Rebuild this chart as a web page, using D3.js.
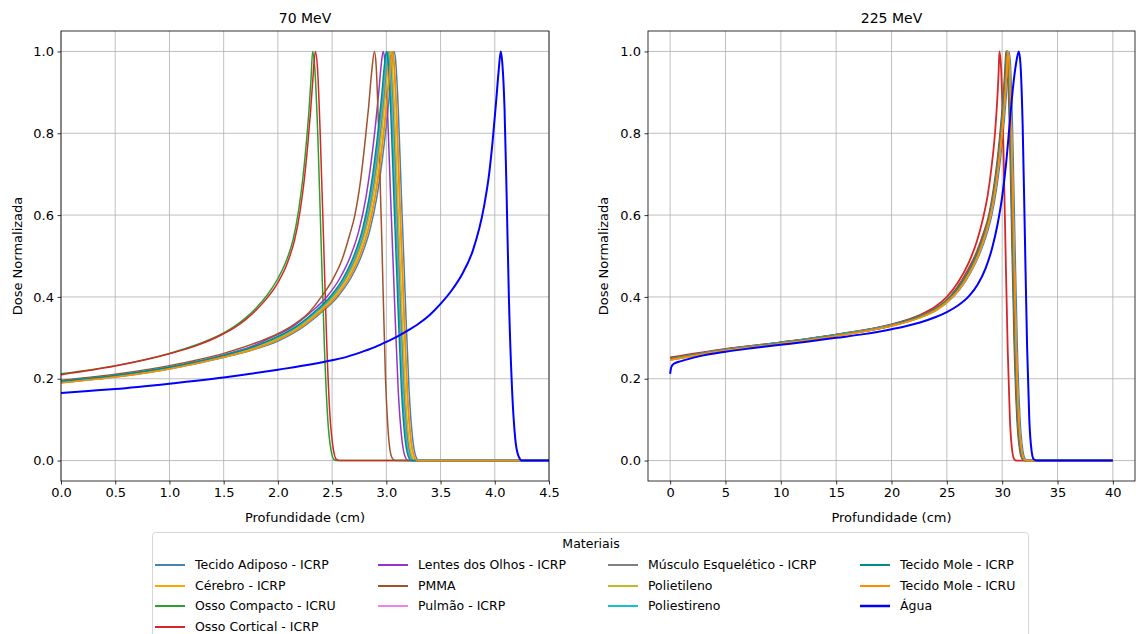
<!DOCTYPE html>
<html>
<head>
<meta charset="utf-8">
<script src="https://cdn.jsdelivr.net/npm/d3@7"></script>
<style>
  body { margin: 0; background: #fff; }
  svg { font-family: "DejaVu Sans", sans-serif; }
</style>
</head>
<body>
<svg id="fig" width="1136" height="634"></svg>
<script>
// === Dados === //

var materiais = [
  "Tecido Adiposo - ICRP", "Cérebro - ICRP", "Osso Compacto - ICRU", "Osso Cortical - ICRP",
  "Lentes dos Olhos - ICRP", "PMMA", "Pulmão - ICRP", "Músculo Esquelético - ICRP",
  "Polietileno", "Poliestireno", "Tecido Mole - ICRP", "Tecido Mole - ICRU", "Água"
]
var cores = ["#4682b4", "#ffa500", "#2ca02c", "#d62728", "#9932cc", "#a0522d", "#ee82ee",
  "#808080", "#bcbd22", "#17becf", "#008b8b", "#ff8c00", "#0000ff"]

// 70 MeV  [profundidade cm, dose]
var adiposo70 = [[0,0.190],[0.5,0.204],[1.0,0.224],[1.5,0.252],[1.75,0.269],[2.0,0.292],[2.25,0.33],[2.40,0.362],[2.55,0.40],[2.67,0.445],[2.77,0.50],[2.85,0.565],[2.91,0.64],[2.96,0.73],[3.00,0.82],[3.03,0.90],[3.05,0.96],[3.07,1.0],[3.085,0.98],[3.11,0.86],[3.14,0.64],[3.18,0.36],[3.21,0.17],[3.24,0.06],[3.27,0.012],[3.30,0],[4.5,0]]
var cerebro70 = [[0,0.191],[0.5,0.205],[1.0,0.225],[1.5,0.253],[1.75,0.270],[1.98,0.293],[2.23,0.33],[2.38,0.362],[2.53,0.40],[2.65,0.445],[2.75,0.50],[2.83,0.565],[2.89,0.64],[2.94,0.73],[2.98,0.82],[3.01,0.90],[3.03,0.96],[3.05,1.0],[3.065,0.98],[3.09,0.86],[3.12,0.64],[3.16,0.36],[3.19,0.17],[3.22,0.06],[3.25,0.012],[3.28,0],[4.5,0]]
var compacto70 = [[0,0.212],[0.5,0.232],[1.0,0.262],[1.25,0.283],[1.5,0.312],[1.6,0.328],[1.7,0.348],[1.8,0.373],[1.9,0.404],[2.0,0.445],[2.08,0.49],[2.14,0.54],[2.19,0.61],[2.23,0.69],[2.26,0.77],[2.285,0.85],[2.305,0.93],[2.32,1.0],[2.34,0.96],[2.37,0.78],[2.40,0.52],[2.43,0.27],[2.46,0.10],[2.49,0.025],[2.52,0.002],[2.55,0],[4.5,0]]
var cortical70 = [[0,0.210],[0.5,0.231],[1.0,0.261],[1.25,0.281],[1.5,0.310],[1.6,0.325],[1.7,0.344],[1.8,0.368],[1.9,0.397],[2.0,0.435],[2.09,0.485],[2.155,0.54],[2.205,0.61],[2.245,0.69],[2.275,0.77],[2.30,0.85],[2.322,0.93],[2.345,1.0],[2.365,0.96],[2.39,0.80],[2.42,0.55],[2.45,0.29],[2.48,0.11],[2.51,0.03],[2.54,0.003],[2.57,0],[4.5,0]]
var lentes70 = [[0,0.195],[0.5,0.209],[1.0,0.229],[1.5,0.258],[1.75,0.278],[1.90,0.296],[2.15,0.33],[2.30,0.362],[2.45,0.40],[2.57,0.445],[2.67,0.50],[2.75,0.565],[2.81,0.64],[2.86,0.73],[2.90,0.82],[2.93,0.90],[2.95,0.96],[2.97,1.0],[2.985,0.98],[3.01,0.86],[3.04,0.64],[3.08,0.36],[3.11,0.17],[3.14,0.06],[3.17,0.012],[3.20,0],[4.5,0]]
var pmma70 = [[0,0.196],[0.5,0.211],[1.0,0.232],[1.5,0.262],[1.8,0.288],[2.0,0.31],[2.15,0.333],[2.28,0.36],[2.40,0.40],[2.50,0.44],[2.59,0.49],[2.66,0.55],[2.71,0.60],[2.76,0.68],[2.80,0.77],[2.835,0.86],[2.865,0.95],[2.89,1.0],[2.905,0.97],[2.93,0.80],[2.96,0.52],[2.99,0.22],[3.02,0.06],[3.05,0.008],[3.08,0],[4.5,0]]
var pulmao70 = [[0,0.193],[0.5,0.207],[1.0,0.227],[1.5,0.256],[1.75,0.275],[1.95,0.295],[2.20,0.33],[2.35,0.362],[2.50,0.40],[2.62,0.445],[2.72,0.50],[2.80,0.565],[2.86,0.64],[2.91,0.73],[2.95,0.82],[2.98,0.90],[3.00,0.96],[3.02,1.0],[3.035,0.98],[3.06,0.86],[3.09,0.64],[3.13,0.36],[3.16,0.17],[3.19,0.06],[3.22,0.012],[3.25,0],[4.5,0]]
var musculo70 = [[0,0.192],[0.5,0.206],[1.0,0.226],[1.5,0.255],[1.75,0.274],[1.955,0.294],[2.205,0.33],[2.355,0.362],[2.505,0.40],[2.625,0.445],[2.725,0.50],[2.805,0.565],[2.865,0.64],[2.915,0.73],[2.955,0.82],[2.985,0.90],[3.005,0.96],[3.025,1.0],[3.04,0.98],[3.065,0.86],[3.095,0.64],[3.135,0.36],[3.165,0.17],[3.195,0.06],[3.225,0.012],[3.255,0],[4.5,0]]
var polietileno70 = [[0,0.191],[0.5,0.205],[1.0,0.225],[1.5,0.254],[1.75,0.272],[1.965,0.294],[2.215,0.33],[2.365,0.362],[2.515,0.40],[2.635,0.445],[2.735,0.50],[2.815,0.565],[2.875,0.64],[2.925,0.73],[2.965,0.82],[2.995,0.90],[3.015,0.96],[3.035,1.0],[3.05,0.98],[3.075,0.86],[3.105,0.64],[3.145,0.36],[3.175,0.17],[3.205,0.06],[3.235,0.012],[3.265,0],[4.5,0]]
var poliestireno70 = [[0,0.194],[0.5,0.208],[1.0,0.228],[1.5,0.257],[1.75,0.276],[1.94,0.295],[2.19,0.33],[2.34,0.362],[2.49,0.40],[2.61,0.445],[2.71,0.50],[2.79,0.565],[2.85,0.64],[2.90,0.73],[2.94,0.82],[2.97,0.90],[2.99,0.96],[3.01,1.0],[3.025,0.98],[3.05,0.86],[3.08,0.64],[3.12,0.36],[3.15,0.17],[3.18,0.06],[3.21,0.012],[3.24,0],[4.5,0]]
var moleIcrp70 = [[0,0.194],[0.5,0.208],[1.0,0.228],[1.5,0.257],[1.75,0.276],[1.93,0.295],[2.18,0.33],[2.33,0.362],[2.48,0.40],[2.60,0.445],[2.70,0.50],[2.78,0.565],[2.84,0.64],[2.89,0.73],[2.93,0.82],[2.96,0.90],[2.98,0.96],[3.00,1.0],[3.015,0.98],[3.04,0.86],[3.07,0.64],[3.11,0.36],[3.14,0.17],[3.17,0.06],[3.20,0.012],[3.23,0],[4.5,0]]
var moleIcru70 = [[0,0.190],[0.5,0.204],[1.0,0.224],[1.5,0.253],[1.75,0.270],[1.985,0.293],[2.235,0.33],[2.385,0.362],[2.535,0.40],[2.655,0.445],[2.755,0.50],[2.835,0.565],[2.895,0.64],[2.945,0.73],[2.985,0.82],[3.015,0.90],[3.035,0.96],[3.055,1.0],[3.07,0.98],[3.095,0.86],[3.125,0.64],[3.165,0.36],[3.195,0.17],[3.225,0.06],[3.255,0.012],[3.285,0],[4.5,0]]
var agua70 = [[0,0.165],[0.25,0.170],[0.5,0.175],[1.0,0.188],[1.5,0.203],[2.0,0.222],[2.5,0.245],[2.6,0.251],[2.7,0.259],[2.8,0.268],[2.9,0.278],[3.0,0.290],[3.1,0.303],[3.2,0.318],[3.3,0.335],[3.4,0.356],[3.5,0.383],[3.6,0.415],[3.7,0.456],[3.8,0.515],[3.9,0.62],[3.95,0.705],[3.98,0.78],[4.01,0.87],[4.035,0.95],[4.055,1.0],[4.07,0.97],[4.09,0.86],[4.11,0.64],[4.13,0.40],[4.16,0.17],[4.19,0.05],[4.22,0.01],[4.25,0],[4.5,0]]

// 225 MeV
var adiposo225 = [[0,0.246],[5,0.269],[10,0.286],[15,0.305],[20,0.329],[22.5,0.349],[24,0.367],[25,0.386],[26.15,0.418],[27.15,0.46],[27.95,0.505],[28.55,0.55],[29.05,0.60],[29.45,0.66],[29.8,0.73],[30.1,0.81],[30.35,0.89],[30.5,0.95],[30.6,1.0],[30.75,0.96],[30.95,0.78],[31.15,0.52],[31.35,0.28],[31.6,0.10],[31.85,0.025],[32.1,0.003],[32.35,0],[40,0]]
var cerebro225 = [[0,0.247],[5,0.270],[10,0.287],[15,0.306],[20,0.330],[22.5,0.350],[24,0.369],[25,0.389],[26,0.418],[27,0.46],[27.8,0.505],[28.4,0.55],[28.9,0.60],[29.3,0.66],[29.65,0.73],[29.95,0.81],[30.2,0.89],[30.35,0.95],[30.45,1.0],[30.6,0.96],[30.8,0.78],[31.0,0.52],[31.2,0.28],[31.45,0.10],[31.7,0.025],[31.95,0.003],[32.2,0],[40,0]]
var compacto225 = [[0,0.249],[5,0.271],[10,0.288],[15,0.307],[20,0.331],[22.5,0.352],[24,0.371],[25,0.392],[25.95,0.421],[26.95,0.464],[27.75,0.508],[28.35,0.553],[28.85,0.60],[29.25,0.66],[29.6,0.73],[29.9,0.81],[30.15,0.89],[30.3,0.95],[30.4,1.0],[30.55,0.96],[30.75,0.78],[30.95,0.52],[31.15,0.28],[31.4,0.10],[31.65,0.025],[31.9,0.003],[32.15,0],[40,0]]
var cortical225 = [[0,0.252],[5,0.273],[10,0.289],[15,0.308],[20,0.333],[22.5,0.355],[24,0.377],[25,0.40],[26,0.435],[27,0.485],[27.7,0.535],[28.25,0.59],[28.7,0.65],[29.05,0.72],[29.35,0.80],[29.55,0.88],[29.68,0.95],[29.75,1.0],[29.9,0.96],[30.1,0.78],[30.3,0.52],[30.5,0.27],[30.7,0.10],[30.9,0.025],[31.1,0.003],[31.3,0],[40,0]]
var lentes225 = [[0,0.248],[5,0.271],[10,0.288],[15,0.307],[20,0.331],[22.5,0.351],[24,0.370],[25,0.391],[25.95,0.42],[26.95,0.463],[27.75,0.507],[28.35,0.552],[28.85,0.60],[29.25,0.66],[29.6,0.73],[29.9,0.81],[30.15,0.89],[30.3,0.95],[30.4,1.0],[30.55,0.96],[30.75,0.78],[30.95,0.52],[31.15,0.28],[31.4,0.10],[31.65,0.025],[31.9,0.003],[32.15,0],[40,0]]
var pmma225 = [[0,0.249],[5,0.272],[10,0.289],[15,0.308],[20,0.332],[22.5,0.353],[24,0.372],[25,0.393],[25.9,0.422],[26.9,0.466],[27.7,0.51],[28.3,0.555],[28.8,0.60],[29.2,0.66],[29.55,0.73],[29.85,0.81],[30.1,0.89],[30.25,0.95],[30.35,1.0],[30.5,0.96],[30.7,0.78],[30.9,0.52],[31.1,0.28],[31.35,0.10],[31.6,0.025],[31.85,0.003],[32.1,0],[40,0]]
var pulmao225 = [[0,0.247],[5,0.270],[10,0.287],[15,0.306],[20,0.330],[22.5,0.350],[24,0.368],[25,0.388],[26.05,0.417],[27.05,0.459],[27.85,0.504],[28.45,0.55],[28.95,0.60],[29.35,0.66],[29.7,0.73],[30.0,0.81],[30.25,0.89],[30.4,0.95],[30.5,1.0],[30.65,0.96],[30.85,0.78],[31.05,0.52],[31.25,0.28],[31.5,0.10],[31.75,0.025],[32.0,0.003],[32.25,0],[40,0]]
var musculo225 = [[0,0.248],[5,0.270],[10,0.287],[15,0.306],[20,0.330],[22.5,0.350],[24,0.369],[25,0.389],[26,0.418],[27,0.46],[27.8,0.505],[28.4,0.55],[28.9,0.60],[29.3,0.66],[29.65,0.73],[29.95,0.81],[30.2,0.89],[30.35,0.95],[30.45,1.0],[30.6,0.96],[30.8,0.78],[31.0,0.52],[31.2,0.28],[31.45,0.10],[31.7,0.025],[31.95,0.003],[32.2,0],[40,0]]
var polietileno225 = [[0,0.246],[5,0.269],[10,0.286],[15,0.305],[20,0.329],[22.5,0.349],[24,0.367],[25,0.387],[26.05,0.417],[27.05,0.459],[27.85,0.504],[28.45,0.55],[28.95,0.60],[29.35,0.66],[29.7,0.73],[30.0,0.81],[30.25,0.89],[30.4,0.95],[30.5,1.0],[30.65,0.96],[30.85,0.78],[31.05,0.52],[31.25,0.28],[31.5,0.10],[31.75,0.025],[32.0,0.003],[32.25,0],[40,0]]
var poliestireno225 = [[0,0.248],[5,0.271],[10,0.288],[15,0.307],[20,0.331],[22.5,0.351],[24,0.370],[25,0.390],[26,0.419],[27,0.461],[27.8,0.506],[28.4,0.55],[28.9,0.60],[29.3,0.66],[29.65,0.73],[29.95,0.81],[30.2,0.89],[30.35,0.95],[30.45,1.0],[30.6,0.96],[30.8,0.78],[31.0,0.52],[31.2,0.28],[31.45,0.10],[31.7,0.025],[31.95,0.003],[32.2,0],[40,0]]
var moleIcrp225 = [[0,0.248],[5,0.270],[10,0.287],[15,0.306],[20,0.330],[22.5,0.351],[24,0.370],[25,0.390],[26,0.419],[27,0.461],[27.8,0.506],[28.4,0.55],[28.9,0.60],[29.3,0.66],[29.65,0.73],[29.95,0.81],[30.2,0.89],[30.35,0.95],[30.45,1.0],[30.6,0.96],[30.8,0.78],[31.0,0.52],[31.2,0.28],[31.45,0.10],[31.7,0.025],[31.95,0.003],[32.2,0],[40,0]]
var moleIcru225 = [[0,0.246],[5,0.269],[10,0.286],[15,0.305],[20,0.329],[22.5,0.349],[24,0.368],[25,0.388],[26.05,0.417],[27.05,0.459],[27.85,0.504],[28.45,0.55],[28.95,0.60],[29.35,0.66],[29.7,0.73],[30.0,0.81],[30.25,0.89],[30.4,0.95],[30.5,1.0],[30.65,0.96],[30.85,0.78],[31.05,0.52],[31.25,0.28],[31.5,0.10],[31.75,0.025],[32.0,0.003],[32.25,0],[40,0]]
var agua225 = [[0,0.212],[0.1,0.228],[0.3,0.236],[1,0.243],[2.5,0.254],[5,0.266],[7.5,0.275],[10,0.283],[12.5,0.291],[15,0.300],[17.5,0.309],[20,0.321],[22.5,0.337],[24,0.351],[25,0.363],[26,0.379],[27,0.402],[27.8,0.431],[28.5,0.47],[29.1,0.52],[29.6,0.58],[30.0,0.645],[30.35,0.725],[30.65,0.815],[30.95,0.905],[31.25,0.97],[31.5,1.0],[31.65,0.97],[31.85,0.82],[32.05,0.55],[32.25,0.28],[32.45,0.10],[32.65,0.025],[32.85,0.003],[33.1,0],[40,0]]

var curvas70 = [adiposo70, cerebro70, compacto70, cortical70, lentes70, pmma70, pulmao70,
  musculo70, polietileno70, poliestireno70, moleIcrp70, moleIcru70, agua70]
var curvas225 = [adiposo225, cerebro225, compacto225, cortical225, lentes225, pmma225, pulmao225,
  musculo225, polietileno225, poliestireno225, moleIcrp225, moleIcru225, agua225]

var ticksX70 = [0, 0.5, 1.0, 1.5, 2.0, 2.5, 3.0, 3.5, 4.0, 4.5]
var ticksX225 = [0, 5, 10, 15, 20, 25, 30, 35, 40]
var ticksY = [0, 0.2, 0.4, 0.6, 0.8, 1.0]

// === Layout === //
var svg = d3.select("#fig")
var fontsize = 13

var paineis = [
  { titulo: "70 MeV", curvas: curvas70, dominioX: [0, 4.5], ticksX: ticksX70, fmt: d3.format(".1f"),
    left: 61, right: 549, ylabelX: 17, lw: 1.5 },
  { titulo: "225 MeV", curvas: curvas225, dominioX: [-2, 42], ticksX: ticksX225, fmt: d3.format("d"),
    left: 648, right: 1135, ylabelX: 603, lw: 1.8 }
]
var plotTop = 31, plotBottom = 481

paineis.forEach(function(p, k) {
  var x = d3.scaleLinear().domain(p.dominioX).range([p.left, p.right])
  var y = d3.scaleLinear().domain([-0.05, 1.05]).range([plotBottom, plotTop])
  var g = svg.append("g")

  g.append("clipPath").attr("id", "clip" + k)
    .append("rect").attr("x", p.left).attr("y", plotTop)
    .attr("width", p.right - p.left).attr("height", plotBottom - plotTop)

  // grade
  g.selectAll(".gx").data(p.ticksX).enter().append("line")
    .attr("x1", d => x(d)).attr("x2", d => x(d)).attr("y1", plotTop).attr("y2", plotBottom)
    .attr("stroke", "#b0b0b0").attr("stroke-width", 0.8)
  g.selectAll(".gy").data(ticksY).enter().append("line")
    .attr("y1", d => y(d)).attr("y2", d => y(d)).attr("x1", p.left).attr("x2", p.right)
    .attr("stroke", "#b0b0b0").attr("stroke-width", 0.8)

  // curvas
  var linha = d3.line().x(d => x(d[0])).y(d => y(d[1])).curve(d3.curveMonotoneX)
  g.append("g").attr("clip-path", "url(#clip" + k + ")")
    .selectAll("path").data(p.curvas).enter().append("path")
    .attr("d", linha)
    .attr("fill", "none")
    .attr("stroke", (d, i) => cores[i])
    .attr("stroke-width", (d, i) => i == 12 ? 2 : p.lw)
    .attr("stroke-linejoin", "round")

  // eixos
  var eixoX = d3.axisBottom(x).tickValues(p.ticksX).tickFormat(p.fmt).tickSizeOuter(0).tickSize(3.5).tickPadding(3.5)
  var eixoY = d3.axisLeft(y).tickValues(ticksY).tickFormat(d3.format(".1f")).tickSizeOuter(0).tickSize(3.5).tickPadding(3.5)
  var gx = g.append("g").attr("transform", "translate(0," + plotBottom + ")").call(eixoX)
  var gy = g.append("g").attr("transform", "translate(" + p.left + ",0)").call(eixoY)
  ;[gx, gy].forEach(function(a) {
    a.select(".domain").remove()
    a.selectAll("text").attr("font-size", fontsize).attr("fill", "#000").attr("font-family", "DejaVu Sans")
    a.selectAll("line").attr("stroke", "#000").attr("stroke-width", 0.8)
  })

  g.append("rect").attr("x", p.left).attr("y", plotTop)
    .attr("width", p.right - p.left).attr("height", plotBottom - plotTop)
    .attr("fill", "none").attr("stroke", "#000").attr("stroke-width", 0.8)

  g.append("text").attr("x", (p.left + p.right) / 2).attr("y", 23)
    .attr("text-anchor", "middle").attr("font-size", 14).text(p.titulo)
  g.append("text").attr("x", (p.left + p.right) / 2).attr("y", 522)
    .attr("text-anchor", "middle").attr("font-size", fontsize).text("Profundidade (cm)")
  g.append("text").attr("transform", "translate(" + p.ylabelX + "," + (plotTop + plotBottom) / 2 + ") rotate(-90)")
    .attr("text-anchor", "middle").attr("dy", "0.35em").attr("font-size", fontsize).text("Dose Normalizada")
})

// === Legenda === //
var leg = svg.append("g")
leg.append("rect").attr("x", 152.5).attr("y", 532.5).attr("width", 876).attr("height", 120)
  .attr("rx", 3).attr("fill", "#fff").attr("fill-opacity", 0.8).attr("stroke", "#d6d6d6")
leg.append("text").attr("x", 591).attr("y", 544).attr("dy", "0.35em")
  .attr("text-anchor", "middle").attr("font-size", 12.5).text("Materiais")

var colX = [155, 378, 608, 860]
var linhaY = [565, 586, 606, 627]
var porColuna = [4, 3, 3, 3]
var idx = 0
porColuna.forEach(function(n, c) {
  for (var r = 0; r < n; r++) {
    var i = idx++
    var item = leg.append("g").attr("transform", "translate(" + colX[c] + "," + linhaY[r] + ")")
    item.append("line").attr("x1", 0).attr("x2", 30).attr("y1", 0).attr("y2", 0)
      .attr("stroke", cores[i]).attr("stroke-width", i == 12 ? 2.5 : 2)
    item.append("text").attr("x", 40).attr("dy", "0.35em").attr("font-size", 12.5).text(materiais[i])
  }
})
</script>
</body>
</html>
